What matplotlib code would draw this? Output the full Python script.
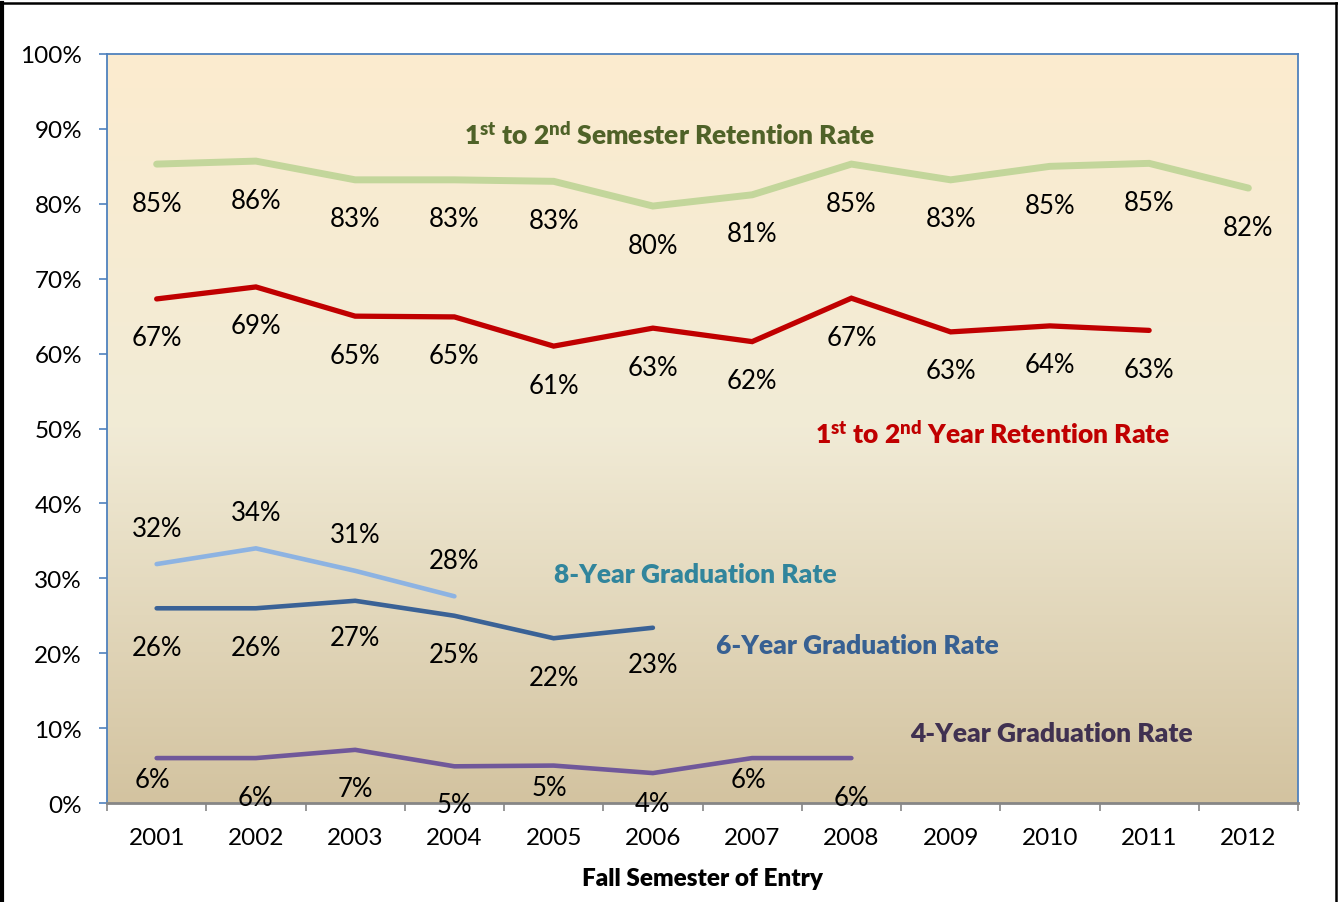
import numpy as np
import matplotlib
matplotlib.use("Agg")
import matplotlib.pyplot as plt
from matplotlib.colors import LinearSegmentedColormap
from matplotlib.lines import Line2D
from matplotlib.ticker import FixedLocator, PercentFormatter

plt.rcParams['font.family'] = ['Lato', 'DejaVu Sans']
plt.rcParams['mathtext.fontset'] = 'custom'
plt.rcParams['mathtext.rm'] = 'Lato'
plt.rcParams['mathtext.it'] = 'Lato:italic'
plt.rcParams['mathtext.bf'] = 'Lato:heavy'

# data (percent)
years = ['2001', '2002', '2003', '2004', '2005', '2006',
         '2007', '2008', '2009', '2010', '2011', '2012']
semester_ret = [85.3, 85.7, 83.2, 83.2, 83.0, 79.7, 81.2, 85.3, 83.2, 85.0, 85.4, 82.1]
year_ret = [67.3, 68.9, 65.0, 64.9, 61.0, 63.4, 61.6, 67.4, 62.9, 63.7, 63.1]
grad8 = [31.9, 34.0, 31.0, 27.6]
grad6 = [26.0, 26.0, 27.0, 25.0, 22.0, 23.4]
grad4 = [6.0, 6.0, 7.1, 4.9, 5.0, 4.0, 6.0, 6.0]

fig = plt.figure(figsize=(13.38, 9.03), dpi=100)
ax = fig.add_axes([0.080, 0.1096, 0.8901, 0.8295])

# parchment style gradient fill of the plot area
cmap = LinearSegmentedColormap.from_list('bg', ['#FCECCF', '#F1EBD6', '#D3C3A0'])
grad = np.linspace(0, 1, 256).reshape(-1, 1)
ax.imshow(grad, cmap=cmap, aspect='auto', extent=(-0.5, 11.5, 0, 100),
          origin='upper', zorder=0)

x = np.arange(len(years))


def draw(vals, color, lw, dy, dx=None):
    n = len(vals)
    ax.plot(x[:n], vals, color=color, lw=lw, solid_capstyle='round',
            solid_joinstyle='miter', zorder=3)
    if np.isscalar(dy):
        dy = [dy] * n
    if dx is None:
        dx = [0] * n
    for xi, v, oy, ox in zip(x[:n], vals, dy, dx):
        ax.annotate(f"{round(v)}%", (xi, v), xytext=(ox, oy),
                    textcoords='offset pixels', ha='center', va='center',
                    fontsize=18.5, color='black', zorder=4)


draw(semester_ret, '#C3D69B', 5.0, -39)
draw(year_ret, '#C00000', 3.8, -39)
draw(grad8, '#8DB3E2', 3.3, 36)
draw(grad6, '#3A6296', 3.3, [-39, -39, -37, -39, -39, -37])
draw(grad4, '#70589A', 3.3, [-21, -39, -39, -38, -22, -30, -21, -39],
     dx=[-4, 0, 0, 0, -4, 0, -4, 0])

lab_kw = dict(ha='center', va='center', fontsize=19, fontweight='heavy', zorder=5)
ax.text(5.17, 89.2, r'1$^{\mathbf{st}}$ to 2$^{\mathbf{nd}}$ Semester Retention Rate',
        color='#4F6228', **lab_kw)
ax.text(8.42, 49.4, r'1$^{\mathbf{st}}$ to 2$^{\mathbf{nd}}$ Year Retention Rate',
        color='#C00000', **lab_kw)
ax.text(5.43, 30.6, '8-Year Graduation Rate', color='#31859C', **lab_kw)
ax.text(7.06, 21.1, '6-Year Graduation Rate', color='#376092', **lab_kw)
ax.text(9.02, 9.3, '4-Year Graduation Rate', color='#403151', **lab_kw)

ax.set_xlim(-0.5, 11.5)
ax.set_ylim(0, 100)

ax.yaxis.set_major_locator(FixedLocator(np.arange(0, 101, 10)))
ax.yaxis.set_major_formatter(PercentFormatter(decimals=0))
ax.tick_params(axis='y', which='major', direction='out', length=6, width=1.2,
               color='#4F81BD', labelsize=17.5, pad=12, labelcolor='black')

ax.xaxis.set_major_locator(FixedLocator(np.arange(-0.5, 12, 1)))
ax.xaxis.set_minor_locator(FixedLocator(x))
ax.set_xticklabels([], minor=False)
ax.set_xticklabels(years, minor=True)
ax.tick_params(axis='x', which='major', direction='out', length=6, width=1.2,
               color='#868686')
ax.tick_params(axis='x', which='minor', length=0, labelsize=17.5, pad=17)

for s in ['left', 'top', 'right']:
    ax.spines[s].set_color('#4F81BD')
    ax.spines[s].set_linewidth(1.3)
ax.spines['bottom'].set_color('#868686')
ax.spines['bottom'].set_linewidth(2)

ax.set_xlabel('Fall Semester of Entry', fontsize=17.5, fontweight='heavy', labelpad=14)

# outer frame of the picture
fig.add_artist(Line2D([0.0015, 0.0015], [0, 0.996], color='black', lw=3,
                      transform=fig.transFigure))
fig.add_artist(Line2D([0, 1], [0.9955, 0.9955], color='black', lw=1.8,
                      transform=fig.transFigure))
fig.add_artist(Line2D([0, 1], [0.9995, 0.9995], color='#B9CDE5', lw=1.5,
                      transform=fig.transFigure))
fig.add_artist(Line2D([0.9985, 0.9985], [0, 0.996], color='black', lw=1.8,
                      transform=fig.transFigure))

fig.savefig('out.png', dpi=100)
